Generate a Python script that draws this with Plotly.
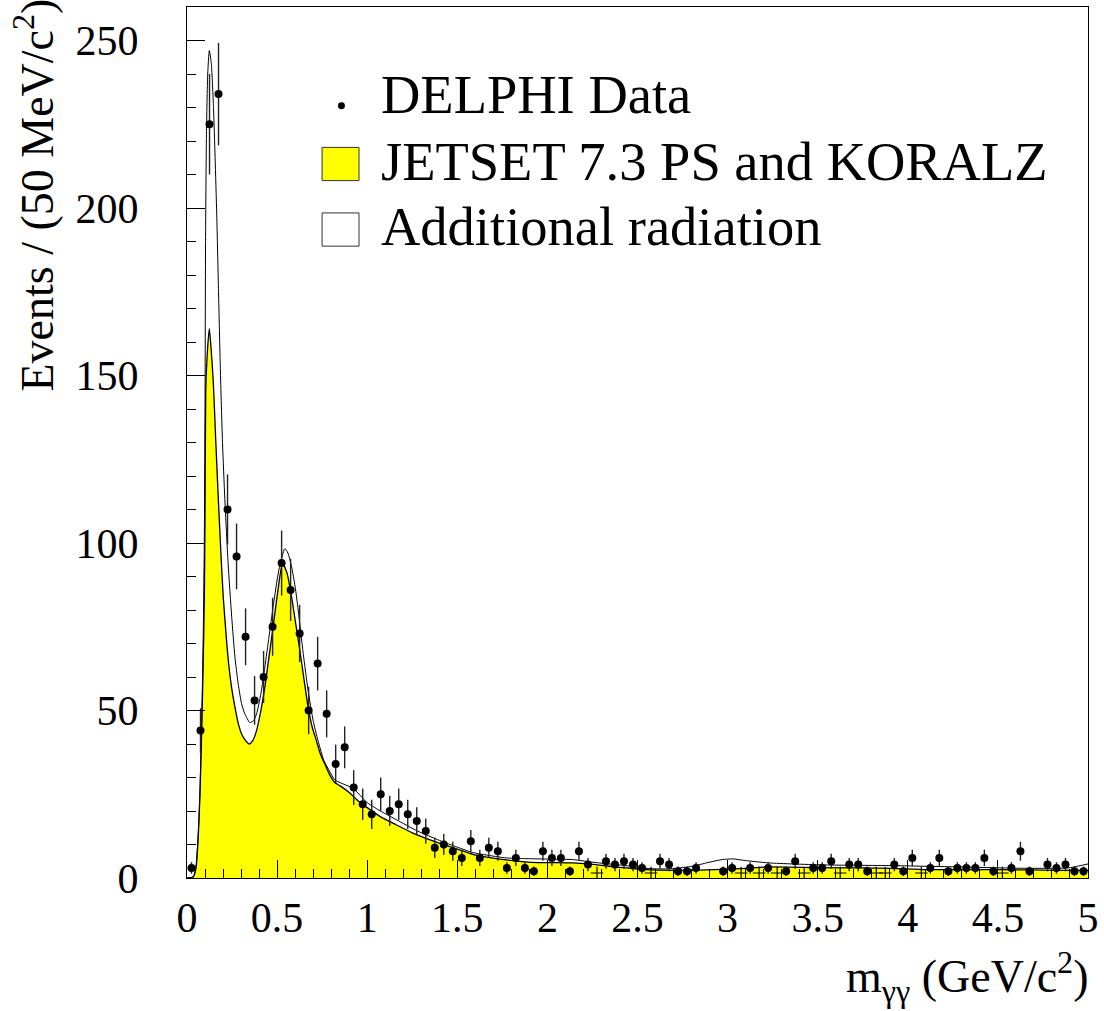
import numpy as np
import plotly.graph_objects as go

# ---------------- data ----------------
data_x = [0.025, 0.075, 0.125, 0.175, 0.225, 0.275, 0.325, 0.375, 0.425, 0.475,
          0.525, 0.575, 0.625, 0.675, 0.725, 0.775, 0.825, 0.875, 0.925, 0.975,
          1.025, 1.075, 1.125, 1.175, 1.225, 1.275, 1.325, 1.375, 1.425, 1.475,
          1.525, 1.575, 1.625, 1.675, 1.725, 1.775, 1.825, 1.875, 1.925, 1.975,
          2.025, 2.075, 2.125, 2.175, 2.225, 2.325, 2.375, 2.425, 2.475, 2.525,
          2.625, 2.675, 2.725, 2.775, 2.825, 2.975, 3.025, 3.125, 3.225, 3.325,
          3.375, 3.475, 3.525, 3.575, 3.675, 3.725, 3.775, 3.925, 3.975, 4.025,
          4.125, 4.175, 4.225, 4.275, 4.325, 4.375, 4.425, 4.475, 4.575, 4.625,
          4.675, 4.775, 4.825, 4.875, 4.925, 4.975]
data_y = [3, 44, 225, 234, 110, 96, 72, 53, 60, 75,
          94, 86, 73, 50, 64, 49, 34, 39, 27, 22,
          19, 25, 20, 22, 19, 17, 14, 9, 10, 8,
          6, 11, 6, 9, 8, 3, 6, 3, 2, 8,
          6, 6, 2, 8, 4, 5, 4, 5, 4, 3,
          5, 4, 2, 2, 3, 2, 3, 3, 3, 2,
          5, 3, 3, 5, 4, 4, 2, 4, 2, 6,
          3, 6, 2, 3, 3, 3, 6, 2, 3, 8,
          2, 4, 3, 4, 2, 2]

# bins drawn with a small cross (empty bins)
empty_x = [2.275, 2.575, 3.075, 3.175, 3.275, 3.425, 3.625, 3.825, 3.875, 4.075, 4.525]
empty_y = [1.5] * len(empty_x)

# JETSET 7.3 PS and KORALZ prediction (filled)
jetset_x = [0.0, 0.035, 0.05, 0.063, 0.072, 0.081, 0.089, 0.096, 0.100, 0.104,
            0.113, 0.124, 0.135, 0.146, 0.16, 0.174, 0.188, 0.201, 0.215, 0.229,
            0.247, 0.266, 0.285, 0.303, 0.325, 0.345, 0.365, 0.386, 0.41, 0.432,
            0.455, 0.478, 0.505, 0.530, 0.555, 0.580, 0.603, 0.626, 0.65, 0.672,
            0.695, 0.718, 0.74, 0.765, 0.79, 0.82, 0.85, 0.9, 0.95, 1.0,
            1.07, 1.16, 1.25, 1.4, 1.5, 1.59, 1.68, 1.77, 1.86, 1.95,
            2.05, 2.14, 2.27, 2.36, 2.44, 2.55, 2.7, 2.8, 2.97, 3.1,
            3.23, 3.5, 3.75, 3.91, 4.1, 4.5, 4.84, 5.0]
jetset_y = [0, 0.3, 3, 13, 25, 43, 62, 83, 108, 145,
            157, 164, 157, 148, 130, 113, 97, 84, 74, 65,
            57, 51, 46, 43, 41, 40, 41, 44, 50, 57,
            66, 75, 86, 94, 91, 84, 76, 68, 59, 51,
            45, 41, 37, 34, 31, 28.5, 27.5, 25.5, 23, 21,
            18.4, 15.9, 13.5, 10.4, 8.6, 7, 6.1, 5.4, 4.9, 4.6,
            4.6, 4.5, 4.0, 3.4, 3.0, 2.5, 2.3, 2.3, 2.6, 2.9,
            3.3, 3.1, 3.0, 2.9, 2.5, 2.5, 2.3, 2.3]

# with additional radiation (line)
total_x = [0.0, 0.035, 0.05, 0.063, 0.072, 0.081, 0.089, 0.096, 0.100, 0.103,
           0.108, 0.115, 0.124, 0.135, 0.147, 0.156, 0.165, 0.175, 0.185, 0.197,
           0.21, 0.228, 0.248, 0.266, 0.284, 0.303, 0.321, 0.349, 0.37, 0.386,
           0.41, 0.432, 0.455, 0.478, 0.51, 0.543, 0.56, 0.58, 0.6, 0.617,
           0.645, 0.672, 0.7, 0.727, 0.76, 0.79, 0.82, 0.87, 0.921, 1.0,
           1.08, 1.162, 1.28, 1.402, 1.5, 1.586, 1.68, 1.77, 1.86, 1.956,
           2.05, 2.14, 2.27, 2.36, 2.436, 2.546, 2.62, 2.694, 2.805, 2.89,
           2.97, 3.03, 3.10, 3.23, 3.54, 3.91, 4.28, 4.65, 4.89, 4.95, 5.0]
total_y = [0, 0.4, 3.5, 14, 26, 45, 68, 100, 140, 190,
           222, 240, 247, 243, 230, 215, 198, 175, 152, 130,
           113, 94, 78, 66, 58, 52, 49, 46.4, 47, 49,
           55, 63, 72, 81, 92, 98.3, 97, 93, 87, 80,
           67, 56, 47, 41, 35, 32, 29.3, 28, 26.8, 22.5,
           19.8, 17.4, 14, 11.2, 9.2, 7.6, 6.7, 6.0, 5.8, 5.7,
           5.6, 5.5, 4.6, 4.1, 3.7, 2.9, 2.7, 2.8, 3.5, 4.6,
           5.5, 5.7, 5.2, 4.5, 3.9, 3.7, 3.3, 2.9, 3.0, 3.6, 4.2]

x_ticks = [0, 0.5, 1, 1.5, 2, 2.5, 3, 3.5, 4, 4.5, 5]
x_tick_labels = ["0", "0.5", "1", "1.5", "2", "2.5", "3", "3.5", "4", "4.5", "5"]
y_ticks = [0, 50, 100, 150, 200, 250]
y_tick_labels = ["0", "50", "100", "150", "200", "250"]

legend_labels = ["DELPHI Data", "JETSET 7.3 PS and KORALZ", "Additional radiation"]

# ---------------- layout geometry (pixels) ----------------
W, H = 1104, 1011
PL, PR, PT, PB = 187, 1089.5, 5.3, 878.3
PW, PH = PR - PL, PB - PT


def fx(px):
    return (px - PL) / PW


def fy(py):
    return (PB - py) / PH


FONT = "Liberation Serif"

fig = go.Figure()

fig.add_trace(go.Scatter(
    x=jetset_x, y=jetset_y, mode="lines", fill="tozeroy",
    fillcolor="#ffff00", line=dict(color="black", width=1.3, shape="spline", smoothing=0.6),
    showlegend=False, hoverinfo="skip"))

fig.add_trace(go.Scatter(
    x=total_x, y=total_y, mode="lines",
    line=dict(color="black", width=1.0, shape="spline", smoothing=0.6),
    showlegend=False, hoverinfo="skip"))

fig.add_trace(go.Scatter(
    x=empty_x, y=empty_y, mode="markers",
    marker=dict(symbol="cross-thin", size=9, line=dict(color="black", width=1.2)),
    showlegend=False, hoverinfo="skip"))

fig.add_trace(go.Scatter(
    x=data_x, y=data_y, mode="markers",
    marker=dict(symbol="circle", size=8, color="black"),
    error_y=dict(type="data", array=list(np.sqrt(np.array(data_y, dtype=float))),
                 color="#222222", thickness=1.4, width=0),
    showlegend=False))

fig.update_xaxes(
    range=[0, 5], showgrid=False, zeroline=False,
    showline=True, linecolor="black", linewidth=1.2, mirror=True,
    ticks="inside", ticklen=18, tickwidth=1, tickcolor="black",
    tickvals=x_ticks, ticktext=x_tick_labels,
    minor=dict(ticks="inside", ticklen=9, tickwidth=1, tickcolor="black", dtick=0.1, showgrid=False),
    tickfont=dict(family=FONT, size=42, color="black"),
    ticklabelstandoff=2)

fig.update_yaxes(
    range=[0, 260], showgrid=False, zeroline=False,
    showline=True, linecolor="black", linewidth=1.2, mirror=True,
    ticks="inside", ticklen=18, tickwidth=1, tickcolor="black",
    tickvals=y_ticks, ticktext=y_tick_labels,
    minor=dict(ticks="inside", ticklen=9, tickwidth=1, tickcolor="black", dtick=10, showgrid=False),
    tickfont=dict(family=FONT, size=42, color="black"),
    ticklabelstandoff=39)

shapes = [
    dict(type="rect", xref="paper", yref="paper",
         x0=fx(322.3), x1=fx(359.3), y0=fy(179.3), y1=fy(146),
         fillcolor="#ffff00", line=dict(color="#333333", width=1)),
    dict(type="rect", xref="paper", yref="paper",
         x0=fx(322.3), x1=fx(359.3), y0=fy(245), y1=fy(211.7),
         fillcolor="white", line=dict(color="#333333", width=1)),
    dict(type="circle", xref="paper", yref="paper",
         x0=fx(338.2), x1=fx(345.2), y0=fy(107.8), y1=fy(100.8),
         fillcolor="black", line=dict(color="black", width=0)),
]

annotations = []
for lab, ypx in zip(legend_labels, [93, 160, 225]):
    annotations.append(dict(
        text=lab, xref="paper", yref="paper", x=fx(379), y=fy(ypx),
        xanchor="left", yanchor="middle", showarrow=False,
        font=dict(family=FONT, size=54.5, color="black")))

annotations.append(dict(
    text="m<sub>γγ</sub> (GeV/c<sup>2</sup>)", xref="paper", yref="paper",
    x=fx(1093), y=fy(977), xanchor="right", yanchor="middle", showarrow=False,
    font=dict(family=FONT, size=46, color="black")))

annotations.append(dict(
    text="Events / (50 MeV/c<sup>2</sup>)", xref="paper", yref="paper",
    x=fx(34), y=fy(393), xanchor="center", yanchor="bottom", textangle=-90, showarrow=False,
    font=dict(family=FONT, size=46, color="black")))

fig.update_layout(
    width=W, height=H,
    margin=dict(l=PL, r=W - PR, t=PT, b=H - PB, pad=0),
    paper_bgcolor="white", plot_bgcolor="white",
    shapes=shapes, annotations=annotations,
    font=dict(family=FONT, color="black"),
    showlegend=False)

fig.write_html("out.html",
               config={"displayModeBar": False},
               post_script="document.body.style.margin='0px';document.body.style.padding='0px';")
